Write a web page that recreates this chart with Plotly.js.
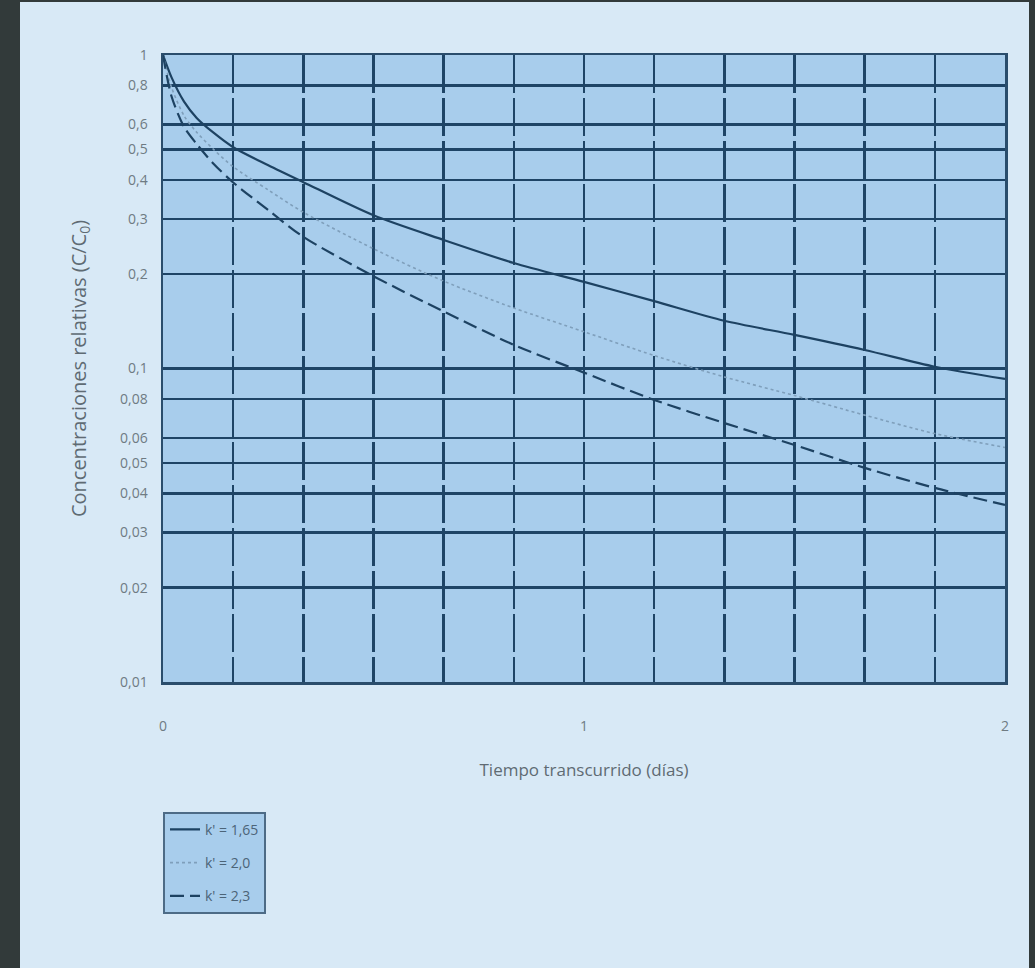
<!DOCTYPE html>
<html>
<head>
<meta charset="utf-8">
<script src="https://cdn.plot.ly/plotly-3.0.1.min.js"></script>
<style>
  html, body { margin: 0; padding: 0; background: #323a3a; width: 1035px; height: 968px; overflow: hidden; }
  #chart { position: absolute; left: 20px; top: 2px; width: 1009px; height: 966px; }
</style>
</head>
<body>
<div id="chart"></div>
<script>
// Tiempo transcurrido (días)
const tiempo = [0, 0.02, 0.05, 0.08, 0.12, 0.1667, 0.25, 0.3333, 0.5, 0.6667, 0.8333, 1, 1.1667, 1.3333, 1.5, 1.6667, 1.8333, 2];
// Concentraciones relativas C/C0
const k165 = [1, 0.85, 0.71, 0.63, 0.565, 0.508, 0.445, 0.393, 0.308, 0.257, 0.217, 0.189, 0.164, 0.142, 0.128, 0.1146, 0.1013, 0.0926];
const k20  = [1, 0.79, 0.64, 0.567, 0.50, 0.44, 0.371, 0.315, 0.241, 0.19, 0.156, 0.131, 0.110, 0.094, 0.082, 0.071, 0.062, 0.056];
const k23  = [1, 0.74, 0.59, 0.52, 0.45, 0.392, 0.32, 0.263, 0.197, 0.152, 0.119, 0.097, 0.0794, 0.067, 0.057, 0.0482, 0.0416, 0.0367];
const seriesNames = ["k' = 1,65", "k' = 2,0", "k' = 2,3"];
// Ticks
const yTickVals = [1, 0.8, 0.6, 0.5, 0.4, 0.3, 0.2, 0.1, 0.08, 0.06, 0.05, 0.04, 0.03, 0.02, 0.01];
const yTickText = ["1", "0,8", "0,6", "0,5", "0,4", "0,3", "0,2", "0,1", "0,08", "0,06", "0,05", "0,04", "0,03", "0,02", "0,01"];
const xTickVals = [0, 1, 2];
const xTickText = ["0", "1", "2"];

const gridCol = '#1e4466';
const plotBg = '#a8cdec';
const pageBg = '#d8e9f6';
const textCol = '#6f7b83';

const traces = [
  { x: tiempo, y: k165, name: seriesNames[0], legendgroup: 'a', mode: 'lines',
    line: { color: '#1d4262', width: 2.2, shape: 'spline', smoothing: 0.8 } },
  { x: tiempo, y: k20, name: seriesNames[1], legendgroup: 'b', mode: 'lines',
    line: { color: '#7f9fbb', width: 1.6, dash: 'dot', shape: 'spline', smoothing: 0.8 } },
  { x: tiempo, y: k23, name: seriesNames[2], legendgroup: 'c', mode: 'lines',
    line: { color: '#1d4262', width: 2.2, dash: '14px,6px', shape: 'spline', smoothing: 0.8 } }
];

const layout = {
  width: 1009, height: 966,
  paper_bgcolor: pageBg,
  plot_bgcolor: plotBg,
  margin: { l: 143, r: 24, t: 53, b: 286 },
  font: { family: 'Open Sans, Liberation Sans, sans-serif', color: textCol },
  showlegend: true,
  legend: {
    x: 0, y: -0.207, xanchor: 'left', yanchor: 'top',
    bgcolor: plotBg, bordercolor: '#4d6b86', borderwidth: 2,
    font: { size: 14, color: '#4c6478' },
    traceorder: 'grouped', tracegroupgap: 12, itemwidth: 30
  },
  xaxis: {
    type: 'linear', range: [0, 2],
    tickvals: xTickVals, ticktext: xTickText,
    ticks: '', ticklabelstandoff: 30,
    tickfont: { size: 14, color: textCol },
    showgrid: true, gridcolor: gridCol, gridwidth: 2.5, griddash: '38px,5px',
    minor: { dtick: 1 / 6, tick0: 0, showgrid: true, gridcolor: gridCol, gridwidth: 2.5, griddash: '38px,5px', ticks: '' },
    showline: true, mirror: true, linecolor: '#2a4d6c', linewidth: 2.5,
    zeroline: false,
    title: { text: 'Tiempo transcurrido (días)', font: { size: 17, color: '#5f6b73' }, standoff: 30 }
  },
  yaxis: {
    type: 'log', range: [-2, 0],
    tickvals: yTickVals, ticktext: yTickText,
    ticks: '', ticklabelstandoff: 10,
    tickfont: { size: 14, color: textCol },
    showgrid: true, gridcolor: gridCol, gridwidth: 2.5,
    showline: true, mirror: true, linecolor: '#2a4d6c', linewidth: 2.5,
    zeroline: false,
    title: { text: 'Concentraciones relativas (C/C<sub>0</sub>)', font: { size: 20, color: '#5f6b73' }, standoff: 28 }
  }
};

Plotly.newPlot('chart', traces, layout, { displayModeBar: false, staticPlot: true });
</script>
</body>
</html>
